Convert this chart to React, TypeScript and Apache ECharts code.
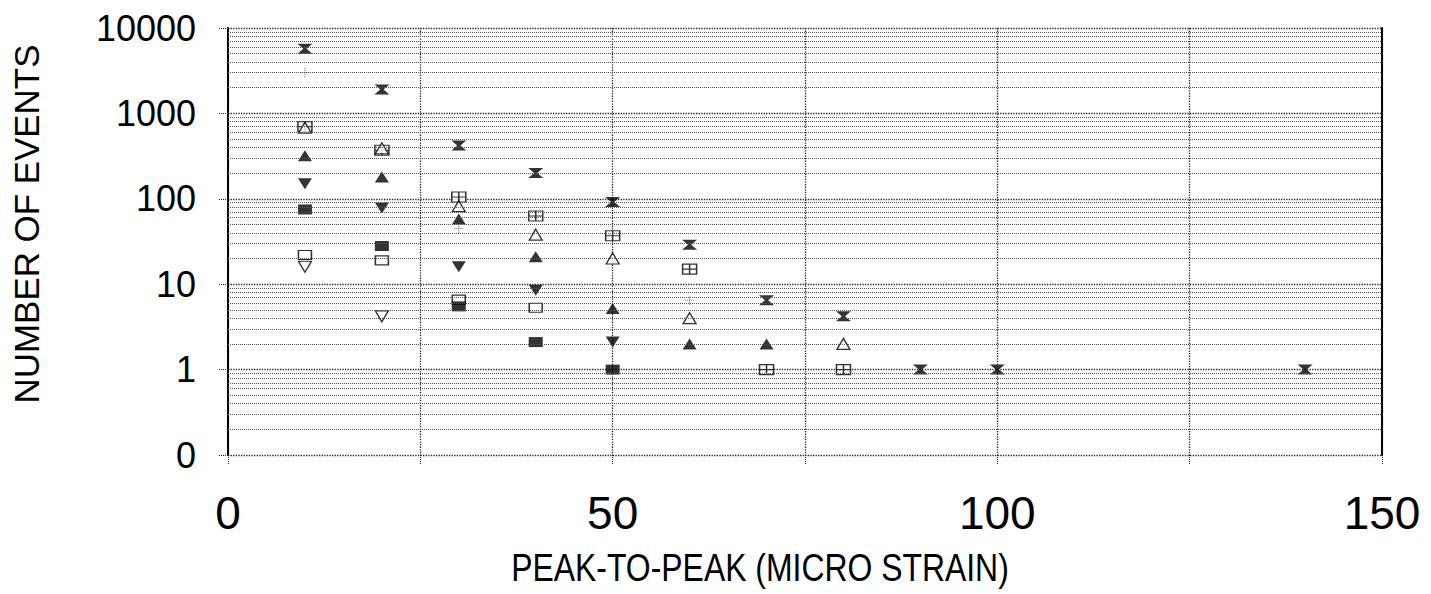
import React, { useEffect, useRef } from 'react';
import * as echarts from 'echarts';

// X positions (micro strain)
const bowtieX = [10, 20, 30, 40, 50, 60, 70, 80, 90, 100, 140];
const bowtieEvents = [5700, 1900, 420, 200, 92, 29, 6.5, 4.2, 1, 1, 1];

const boxCrossX = [10, 20, 30, 40, 50, 60, 70, 80];
const boxCrossEvents = [700, 370, 105, 63, 37, 15, 1, 1];

const triOpenX = [10, 20, 30, 40, 50, 60, 80];
const triOpenEvents = [680, 390, 82, 38, 20, 4, 2];

const triFilledX = [10, 20, 30, 40, 50, 60, 70];
const triFilledEvents = [320, 180, 58, 21, 5.2, 2, 2];

const triDownX = [10, 20, 30, 40, 50];
const triDownEvents = [150, 78, 16, 8.5, 2.1];

const boxFilledX = [10, 20, 30, 40, 50];
const boxFilledEvents = [75, 28, 5.5, 2.1, 1];

const boxOpenX = [10, 20, 30, 40];
const boxOpenEvents = [22, 19, 6.6, 5.3];

const triDownOpenX = [10, 20];
const triDownOpenEvents = [16, 4.2];

const plusX = [10, 30, 60];
const plusEvents = [3000, 45, 6.5];

const yTickLabels: Record<string, string> = {
  '0.1': '0',
  '1': '1',
  '10': '10',
  '100': '100',
  '1000': '1000',
  '10000': '10000',
};

const decades = [0.1, 1, 10, 100, 1000];
const minorSteps = [2, 3, 4, 5, 6, 7, 8, 9];

const xTitle = 'PEAK-TO-PEAK (MICRO STRAIN)';
const yTitle = 'NUMBER OF EVENTS';

const FONT = "'Liberation Sans', Arial, Helvetica, sans-serif";

function pairs(xs: number[], ys: number[]) {
  return xs.map((x, i) => [x, ys[i]]);
}

export default function App() {
  const ref = useRef<HTMLDivElement>(null);
  useEffect(() => {
    if (!ref.current) return;
    const chart = echarts.init(ref.current, undefined, { renderer: 'svg' });

    const minorLines: any[] = [];
    decades.forEach((d) => minorSteps.forEach((m) => minorLines.push({ yAxis: +(d * m).toPrecision(6) })));

    const black = '#000';
    const openStyle = { color: '#fff', borderColor: black, borderWidth: 1.3 };
    const filledStyle = { color: black, borderColor: black, borderWidth: 0 };

    chart.setOption({
      animation: false,
      backgroundColor: '#fff',
      grid: { left: 228, right: 49, top: 28, bottom: 139, containLabel: false, outerBoundsMode: 'none' },
      xAxis: {
        type: 'value',
        min: 0,
        max: 150,
        interval: 25,
        axisLine: { show: false },
        axisTick: { show: true, length: 10, lineStyle: { type: 'dotted', color: '#222' } },
        splitLine: { show: true, lineStyle: { type: 'dotted', color: '#222', width: 1.3 } },
        axisLabel: {
          fontFamily: FONT,
          fontSize: 46,
          color: black,
          margin: 35,
          formatter: (v: number) => (v % 50 === 0 ? String(v) : ''),
        },
      },
      yAxis: [
        {
          type: 'log',
          logBase: 10,
          min: 0.1,
          max: 10000,
          axisLine: { show: true, lineStyle: { color: black, width: 2 } },
          axisTick: { show: true, length: 10, inside: false, lineStyle: { type: 'dotted', color: '#222' } },
          splitLine: { show: true, lineStyle: { type: 'dotted', color: '#222', width: 1.3 } },
          axisLabel: {
            fontFamily: FONT,
            fontSize: 36,
            color: black,
            margin: 32,
            formatter: (v: number) => yTickLabels[String(+v.toPrecision(6))] ?? '',
          },
        },
        {
          type: 'log',
          logBase: 10,
          min: 0.1,
          max: 10000,
          position: 'right',
          axisLine: { show: true, onZero: false, lineStyle: { color: black, width: 2 } },
          axisTick: { show: false },
          splitLine: { show: false },
          axisLabel: { show: false },
        },
      ],
      graphic: [
        {
          type: 'text',
          x: 760,
          y: 567,
          style: {
            text: xTitle,
            font: `38px ${FONT}`,
            fill: black,
            align: 'center',
            verticalAlign: 'middle',
          },
          scaleX: 0.84,
        },
        {
          type: 'text',
          x: 27,
          y: 224,
          rotation: Math.PI / 2,
          style: {
            text: yTitle,
            font: `36px ${FONT}`,
            fill: black,
            align: 'center',
            verticalAlign: 'middle',
          },
          scaleX: 0.97,
        },
      ],
      series: [
        {
          name: 'grid-minor',
          type: 'scatter',
          data: [],
          silent: true,
          markLine: {
            silent: true,
            symbol: ['none', 'none'],
            label: { show: false },
            lineStyle: { type: 'dotted', color: '#555', width: 1 },
            data: minorLines,
          },
        },
        {
          name: 'box-cross',
          type: 'scatter',
          data: pairs(boxCrossX, boxCrossEvents),
          symbol: 'path://M0,0 H14 V10 H0 Z M7,0 V10 M0,5 H14',
          symbolSize: [14, 10],
          itemStyle: openStyle,
        },
        {
          name: 'tri-open',
          type: 'scatter',
          data: pairs(triOpenX, triOpenEvents),
          symbol: 'triangle',
          symbolSize: [13, 11],
          itemStyle: openStyle,
        },
        {
          name: 'tri-filled',
          type: 'scatter',
          data: pairs(triFilledX, triFilledEvents),
          symbol: 'triangle',
          symbolSize: [14, 11],
          itemStyle: filledStyle,
        },
        {
          name: 'tri-down',
          type: 'scatter',
          data: pairs(triDownX, triDownEvents),
          symbol: 'triangle',
          symbolRotate: 180,
          symbolSize: [14, 11],
          itemStyle: filledStyle,
        },
        {
          name: 'box-open',
          type: 'scatter',
          data: pairs(boxOpenX, boxOpenEvents),
          symbol: 'rect',
          symbolSize: [13, 9],
          itemStyle: openStyle,
        },
        {
          name: 'box-filled',
          type: 'scatter',
          data: pairs(boxFilledX, boxFilledEvents),
          symbol: 'rect',
          symbolSize: [14, 10],
          itemStyle: filledStyle,
        },
        {
          name: 'tri-down-open',
          type: 'scatter',
          data: pairs(triDownOpenX, triDownOpenEvents),
          symbol: 'triangle',
          symbolRotate: 180,
          symbolSize: [13, 11],
          itemStyle: openStyle,
        },
        {
          name: 'plus',
          type: 'scatter',
          data: pairs(plusX, plusEvents),
          symbol: 'path://M5,0 V10 M0,5 H10',
          symbolSize: 9,
          itemStyle: { color: 'none', borderColor: '#444', borderWidth: 1, borderType: 'dotted' },
        },
        {
          name: 'bowtie',
          type: 'scatter',
          data: pairs(bowtieX, bowtieEvents),
          symbol: 'path://M0,0 L14,0 L8.5,5 L14,10 L0,10 L5.5,5 Z',
          symbolSize: [15, 10],
          itemStyle: filledStyle,
        },
      ],
    });
    return () => chart.dispose();
  }, []);

  return (
    <div
      ref={ref}
      style={{ position: 'absolute', left: 0, top: 0, width: 1431, height: 594, background: '#fff' }}
    />
  );
}
